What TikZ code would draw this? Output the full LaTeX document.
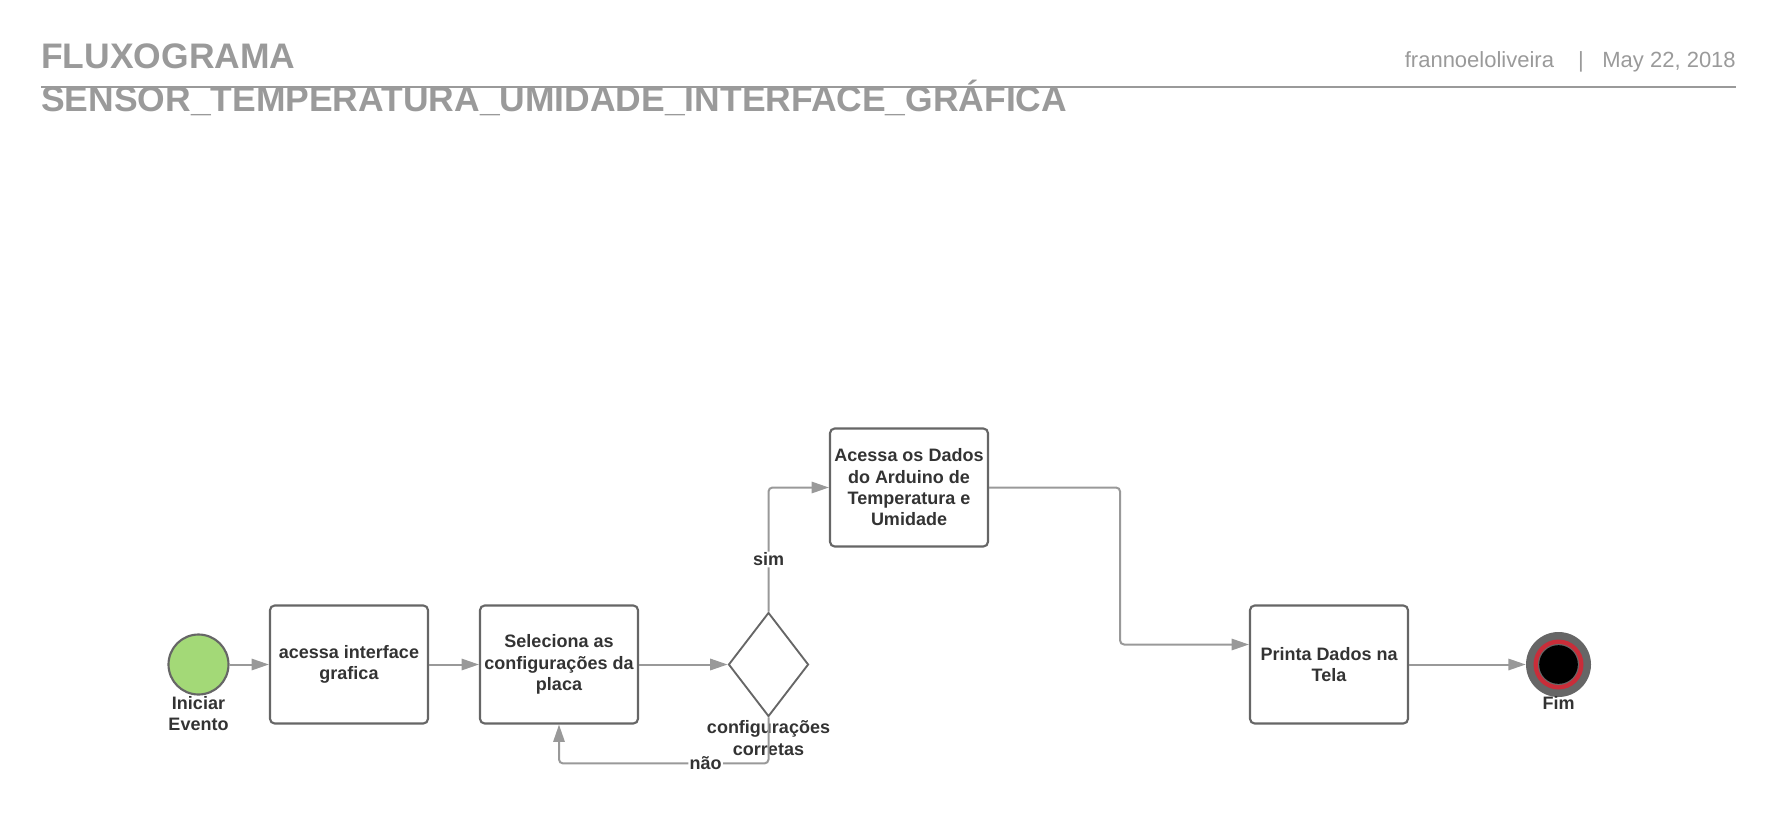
\documentclass[tikz,border=0pt]{standalone}
\usepackage{fontspec}
\setmainfont{Liberation Sans}
\usepackage{xcolor}
\usepackage{tikz}
\usetikzlibrary{shapes.geometric,arrows.meta}
\definecolor{linegray}{HTML}{999999}
\definecolor{boxgray}{HTML}{666666}
\definecolor{txtdark}{HTML}{333333}
\definecolor{titlegray}{HTML}{9A9A9A}
\definecolor{startgreen}{HTML}{A3D977}
\definecolor{endred}{HTML}{C92D39}

\begin{document}
\begin{tikzpicture}[x=0.75pt,y=-0.75pt,
  font=\fontsize{13.5}{16}\selectfont\bfseries,
  every node/.style={text=txtdark},
  task/.style={draw=boxgray,line width=1.6pt,rounded corners=3.5pt,
    minimum width=118.5pt,minimum height=88.5pt,align=center,inner sep=0pt},
  decision/.style={shape=diamond,draw=boxgray,line width=1.4pt,
    minimum width=60pt,minimum height=78pt,inner sep=0pt},
  startev/.style={circle,draw=boxgray,fill=startgreen,line width=1.6pt,
    minimum size=45pt,inner sep=0pt},
  endev/.style={circle,fill=boxgray,minimum size=48.75pt,inner sep=0pt},
  lbl/.style={align=center,inner sep=1pt},
  flow/.style={draw=linegray,line width=1.5pt,rounded corners=3pt,
    -{Triangle[length=13pt,width=8.5pt]}},
  title/.style={anchor=base west,inner sep=0pt,text=titlegray,
    font=\fontsize{26.6}{30}\selectfont\bfseries},
  header/.style={anchor=base east,inner sep=0pt,text=titlegray,
    font=\fontsize{16.5}{20}\selectfont}]
  \useasboundingbox (0,0) rectangle (1777,817);

  \node[title] (titulo) at (41,69) {FLUXOGRAMA};
  \node[title] (subtitulo) at (41,112) {SENSOR\_TEMPERATURA\_UMIDADE\_INTERFACE\_GRÁFICA};
  \node[header] (autor) at (1736,68) {frannoeloliveira\hspace{18pt}|\hspace{14pt}May 22, 2018};
  \draw[titlegray,line width=1.5pt] (41,87) -- (1736,87);

  \node[startev] (inicio) at (198.5,664.5) {};
  \node[lbl] (iniciolbl) at (198.5,713.5) {Iniciar\\Evento};
  \node[task] (acessa) at (349,664.5) {acessa interface\\grafica};
  \node[task] (seleciona) at (559,664.5) {Seleciona as\\configurações da\\placa};
  \node[decision] (decisao) at (768.5,664.5) {};
  \node[lbl] (decisaolbl) at (768.5,738) {configurações\\corretas};
  \node[task] (dados) at (909,487.5) {Acessa os Dados\\do Arduino de\\Temperatura e\\Umidade};
  \node[task] (tela) at (1329,664.5) {Printa Dados na\\Tela};
  \node[endev] (fim) at (1558.5,664.5) {};
  \fill[endred] (fim.center) circle (18.75pt);
  \fill[boxgray] (fim.center) circle (15.4pt);
  \fill[black] (fim.center) circle (14.5pt);
  \node[lbl] (fimlbl) at (1558.5,703) {Fim};

  \draw[flow] (inicio) -- (acessa);
  \draw[flow] (acessa) -- (seleciona);
  \draw[flow] (seleciona) -- (decisao);
  \draw[flow] (decisao.north) |- node[lbl,fill=white,pos=0.21] (sim) {sim} (dados.west);
  \draw[flow] (decisao.south) -- ++(0,46) -| node[lbl,fill=white,pos=0.15] (nao) {não} (seleciona.south);
  \draw[flow] (dados.east) -- ++(131,0) |- ([yshift=15pt]tela.west);
  \draw[flow] (tela) -- (fim);
\end{tikzpicture}
\end{document}
